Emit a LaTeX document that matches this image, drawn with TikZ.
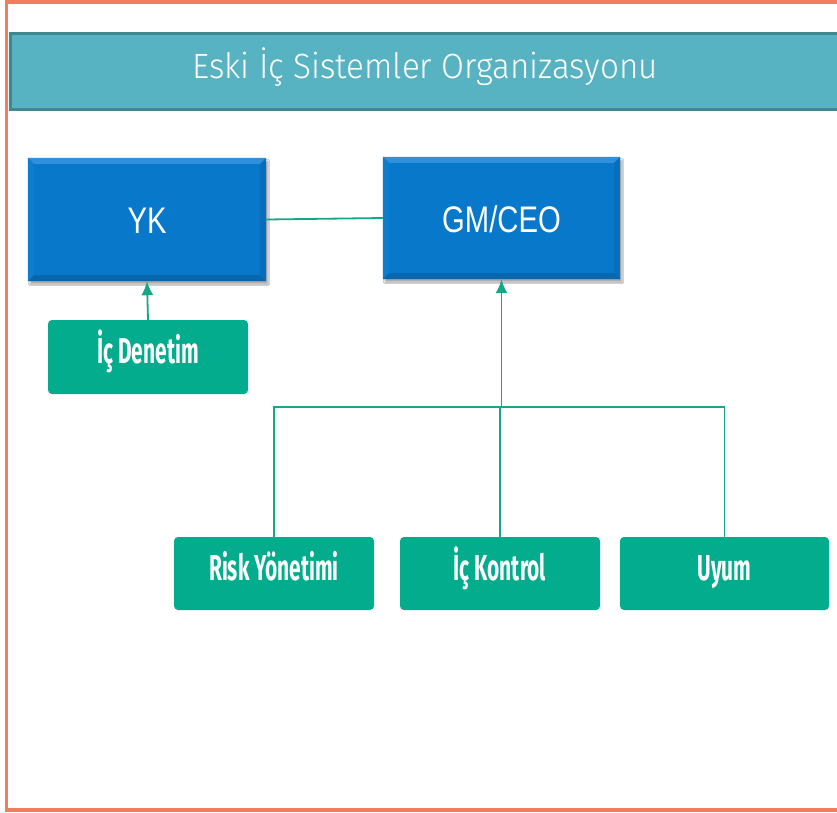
\documentclass[tikz,border=0pt]{standalone}
\usepackage{fontspec}
\usetikzlibrary{arrows.meta,shadows.blur}
\newfontfamily\titlefont{Fira Sans Light}[FakeStretch=0.95]
\newfontfamily\headsans{Liberation Sans}[FakeStretch=0.79]
\newfontfamily\unitfont{Fira Sans}[FakeStretch=0.58]

\definecolor{frameorange}{HTML}{EE7E5E}
\definecolor{bandfill}{HTML}{57B3C1}
\definecolor{banddraw}{HTML}{3F8891}
\definecolor{execblue}{HTML}{0878CA}
\definecolor{bevlight}{HTML}{2F90DE}
\definecolor{bevdark}{HTML}{0866AD}
\definecolor{bevside}{HTML}{086EBC}
\definecolor{bevleftc}{HTML}{0C7ED0}
\definecolor{unitgreen}{HTML}{02AC8C}
\definecolor{linkgreen}{HTML}{16A886}

\tikzset{
  execbox/.style={fill=execblue, minimum width=237pt, minimum height=122pt,
    inner sep=0pt,
    blur shadow={shadow blur steps=6, shadow xshift=2pt, shadow yshift=-3pt, shadow opacity=35}},
  exectext/.style={text=white, inner sep=0pt, anchor=base,
    font=\headsans\fontsize{37}{40}\selectfont},
  unitbox/.style={fill=unitgreen, rounded corners=4pt, minimum width=200pt,
    minimum height=73pt, inner sep=0pt, text=white,
    font=\unitfont\bfseries\fontsize{36}{40}\selectfont,
    text height=13pt, text depth=0pt},
  link/.style={draw=linkgreen, line width=1.8pt},
  uplink/.style={link, -{Latex[length=14pt,width=12pt]}},
}

% bevelled edges on a blue executive box
\newcommand\bevelon[1]{%
  \fill[bevlight] (#1.north west) -- (#1.north east) -- ([shift={(-6,6)}]#1.north east) -- ([shift={(6,6)}]#1.north west) -- cycle;
  \fill[bevleftc] (#1.north west) -- (#1.south west) -- ([shift={(6,-6)}]#1.south west) -- ([shift={(6,6)}]#1.north west) -- cycle;
  \fill[bevside] (#1.north east) -- (#1.south east) -- ([shift={(-6,-6)}]#1.south east) -- ([shift={(-6,6)}]#1.north east) -- cycle;
  \fill[bevdark] (#1.south west) -- (#1.south east) -- ([shift={(-6,-6)}]#1.south east) -- ([shift={(6,-6)}]#1.south west) -- cycle;
}

\begin{document}
\begin{tikzpicture}[x=1pt,y=-1pt]
\useasboundingbox (0,0) rectangle (837,812);
\fill[white] (0,0) rectangle (837,812);

% outer frame
\draw[frameorange, line width=3.5pt] (6.5,2) rectangle (845,810);

% title band
\draw[fill=bandfill, draw=banddraw, line width=3pt] (10,33) rectangle (850,109);
\node[anchor=base, text=white, inner sep=0pt, font=\titlefont\fontsize{35}{40}\selectfont] (title) at (425,78) {Eski İç Sistemler Organizasyonu};

% executive level
\node[execbox, minimum width=238pt, minimum height=123pt] (yk) at (147,219.5) {};
\node[execbox] (gm) at (501.5,218) {};
\bevelon{yk}
\bevelon{gm}
\node[exectext] (yklabel) at (147,233) {YK};
\node[exectext] (gmlabel) at (501.5,232) {GM/CEO};

% units
\node[unitbox, minimum height=74pt] (denetim) at (148,357) {İç Denetim};
\node[unitbox] (risk) at (274,573.5) {Risk Yönetimi};
\node[unitbox] (kontrol) at (500,573.5) {İç Kontrol};
\node[unitbox, minimum width=209pt] (uyum) at (724.5,573.5) {Uyum};

% connectors
\coordinate (bus) at (501,407);
\draw[link] (yk.east) -- (gm.west);
\draw[uplink] (denetim.north) -- (yk.south);
\draw[link] (risk.north) |- (uyum.north |- bus) -- (uyum.north);
\draw[link] (kontrol.north) -- (kontrol.north |- bus);
\draw[uplink] (gm.south |- bus) -- (gm.south);
\end{tikzpicture}
\end{document}
